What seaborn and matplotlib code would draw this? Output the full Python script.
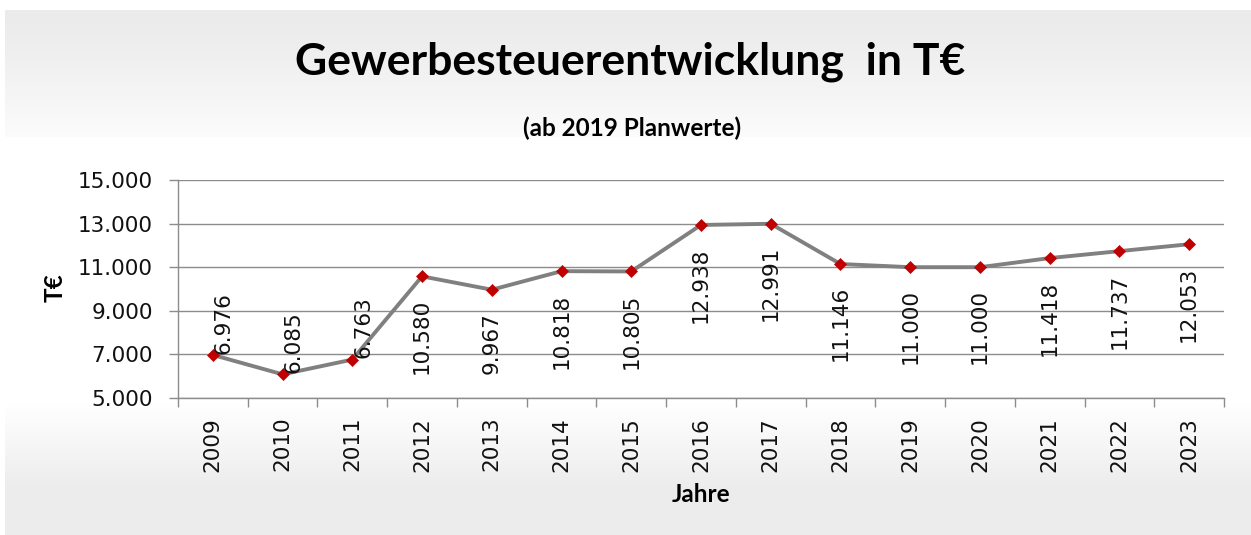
import numpy as np
import pandas as pd
import matplotlib
matplotlib.use('Agg')
import matplotlib.pyplot as plt
from matplotlib.ticker import FixedLocator, FuncFormatter
import seaborn as sns

OUTPUT = 'out.png'

# Gewerbesteuer in T€ (ab 2019 Planwerte)
jahre = ['2009', '2010', '2011', '2012', '2013', '2014', '2015', '2016',
         '2017', '2018', '2019', '2020', '2021', '2022', '2023']
werte = [6976, 6085, 6763, 10580, 9967, 10818, 10805, 12938,
         12991, 11146, 11000, 11000, 11418, 11737, 12053]
y_ticks = [5000, 7000, 9000, 11000, 13000, 15000]

TITLE_FONT = ['Lato', 'DejaVu Sans']
NUM_FONT = ['DejaVu Sans']
GRID = '#8c8c8c'


def tausender(v, pos=None):
    return f'{v:,.0f}'.replace(',', '.')


def hintergrund(h, w):
    # Excel-artiger Verlauf: grau oben und unten, weiss in der Mitte
    col = np.full(h, 255.0)
    oben = np.arange(10, 137)
    col[oben] = 235 + 17 * ((oben - 10) / 127.0) ** 1.3
    unten = np.arange(403, 490)
    col[unten] = 255 - 19 * ((unten - 403) / 87.0)
    col[490:] = 236
    col[:10] = 255
    img = np.repeat(col[:, None], w, axis=1)
    img[:, :5] = 255
    return np.dstack([img, img, img]).astype(np.uint8)


def main():
    df = pd.DataFrame({'Jahr': jahre, 'Wert': werte})

    sns.set_theme(style='white')
    plt.rcParams['font.family'] = NUM_FONT

    W, H = 1251, 535
    fig = plt.figure(figsize=(W / 100, H / 100), dpi=100)

    bg = fig.add_axes([0, 0, 1, 1], zorder=-5)
    bg.imshow(hintergrund(H, W), aspect='auto', interpolation='bilinear')
    bg.axis('off')

    ax = fig.add_axes([178 / W, 137 / H, 1046 / W, 218 / H])
    ax.set_facecolor('white')

    sns.lineplot(data=df, x='Jahr', y='Wert', ax=ax, sort=False,
                 color='#808080', linewidth=2.8, marker='D', markersize=6,
                 markerfacecolor='#c00000', markeredgecolor='#c00000',
                 markeredgewidth=0.5)

    ax.set_xlim(-0.5, len(jahre) - 0.5)
    ax.set_ylim(5000, 15000)
    ax.yaxis.set_major_locator(FixedLocator(y_ticks))
    ax.yaxis.set_major_formatter(FuncFormatter(tausender))
    ax.grid(axis='y', color=GRID, linewidth=1)
    ax.grid(axis='x', visible=False)
    ax.set_axisbelow(True)

    for s in ['top', 'right']:
        ax.spines[s].set_visible(False)
    for s in ['left', 'bottom']:
        ax.spines[s].set_color(GRID)
        ax.spines[s].set_linewidth(1)

    # Striche zwischen den Kategorien
    ax.xaxis.set_minor_locator(FixedLocator(np.arange(-0.5, len(jahre), 1.0)))
    ax.tick_params(axis='x', which='major', length=0, pad=13.5,
                   labelsize=15.5, labelrotation=90, labelcolor='#111111')
    ax.tick_params(axis='x', which='minor', length=6.5, width=1,
                   color=GRID, direction='out', bottom=True)
    ax.tick_params(axis='y', which='major', length=6.5, width=1, color=GRID,
                   direction='out', left=True, pad=11.5, labelsize=15.5,
                   labelcolor='#111111')

    # Datenbeschriftungen
    for i, (j, v) in enumerate(zip(jahre, werte)):
        if i < 3:
            ax.annotate(tausender(v), (j, v), xytext=(8, 1),
                        textcoords='offset points', rotation=90,
                        ha='center', va='bottom', fontsize=15.5,
                        color='#111111')
        else:
            ax.annotate(tausender(v), (j, v), xytext=(0, -16),
                        textcoords='offset points', rotation=90,
                        ha='center', va='top', fontsize=15.5,
                        color='#111111')

    ax.set_xlabel('Jahre', fontsize=17.5, fontweight='bold', family=TITLE_FONT,
                  color='black')
    ax.set_ylabel('T€', fontsize=17.5, fontweight='bold', family=TITLE_FONT,
                  color='black')
    ax.xaxis.set_label_coords(0.5, (398 - 495) / 218)
    ax.yaxis.set_label_coords((55 - 178) / 1046, (398 - 288) / 218)
    ax.xaxis.label.set_va('center')
    ax.yaxis.label.set_va('center')

    fig.text(630 / W, 1 - 62 / H, 'Gewerbesteuerentwicklung  in T€',
             ha='center', va='center', fontsize=32, fontweight='bold',
             family=TITLE_FONT, color='black')
    fig.text(632 / W, 1 - 128 / H, '(ab 2019 Planwerte)',
             ha='center', va='center', fontsize=17.5, fontweight='bold',
             family=TITLE_FONT, color='black')

    fig.savefig(OUTPUT, dpi=100)
    print(f'Gespeichert: {OUTPUT}')


if __name__ == '__main__':
    main()
